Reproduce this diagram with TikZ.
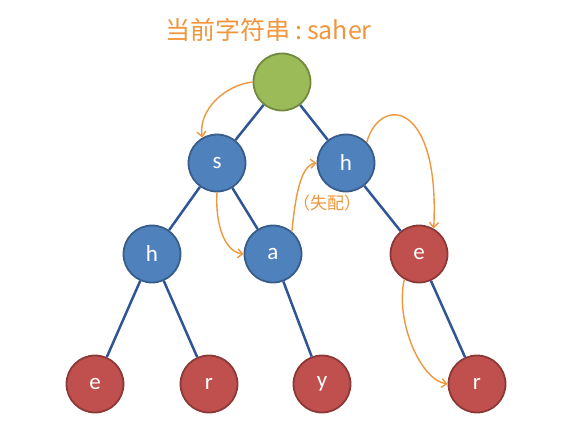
\documentclass[tikz,border=0pt]{standalone}
\usepackage{fontspec}
\setmainfont{Carlito}
\newfontfamily\cjk{Noto Sans CJK SC}
\usetikzlibrary{arrows.meta}
\definecolor{bfill}{RGB}{79,129,189}
\definecolor{bdraw}{RGB}{56,93,138}
\definecolor{rfill}{RGB}{192,80,77}
\definecolor{rdraw}{RGB}{140,56,54}
\definecolor{gfill}{RGB}{155,187,89}
\definecolor{gdraw}{RGB}{113,137,63}
\definecolor{edgec}{RGB}{47,85,151}
\definecolor{orng}{RGB}{240,150,60}
\tikzset{
  tnode/.style={circle,minimum size=57pt,inner sep=0pt,line width=1.8pt,text=white,font=\fontsize{23}{23}\selectfont},
  bnode/.style={tnode,fill=bfill,draw=bdraw},
  rnode/.style={tnode,fill=rfill,draw=rdraw},
  gnode/.style={tnode,fill=gfill,draw=gdraw},
  tedge/.style={draw=edgec,line width=2.5pt},
  oarrow/.style={draw=orng,line width=1.4pt,-{Straight Barb[length=5pt,width=9pt]}},
}
\begin{document}
\begin{tikzpicture}[x=1pt,y=-1pt]
\useasboundingbox (0,0) rectangle (587,436);
\node[text=orng,font=\cjk\fontsize{25}{25}\selectfont,anchor=west,inner sep=0pt] (title) at (165,30) {当前字符串\hspace{5pt}:\hspace{5pt}saher};
\node[gnode] (root) at (282,82) {};
\node[bnode] (s) at (217,163) {s};
\node[bnode] (h2) at (346,163) {h};
\node[bnode] (h1) at (152,254) {h};
\node[bnode] (a) at (273,254) {a};
\node[rnode] (e2) at (419,254) {e};
\node[rnode] (e1) at (95,384) {e};
\node[rnode] (r1) at (209,384) {r};
\node[rnode] (y) at (322,384) {y};
\node[rnode] (r2) at (477,384) {r};
\draw[tedge] (root) -- (s);
\draw[tedge] (root) -- (h2);
\draw[tedge] (s) -- (h1);
\draw[tedge] (s) -- (a);
\draw[tedge] (h2) -- (e2);
\draw[tedge] (h1) -- (e1);
\draw[tedge] (h1) -- (r1);
\draw[tedge] (a) -- (y);
\draw[tedge] (e2) -- (r2);
\path[oarrow] (root.west) .. controls (225,85) and (198,110) .. (s.120);
\path[oarrow] (s.south) .. controls (215,225) and (225,252) .. (a.west);
\path[oarrow] (a.50) .. controls (295,200) and (300,165) .. (h2.west);
\path[oarrow] (h2.45) .. controls (380,95) and (440,100) .. (e2.60);
\path[oarrow] (e2.240) .. controls (395,320) and (420,380) .. (r2.west);
\node[text=orng,font=\cjk\fontsize{17}{17}\selectfont] (lbl) at (327,203) {（失配）};
\end{tikzpicture}
\end{document}
